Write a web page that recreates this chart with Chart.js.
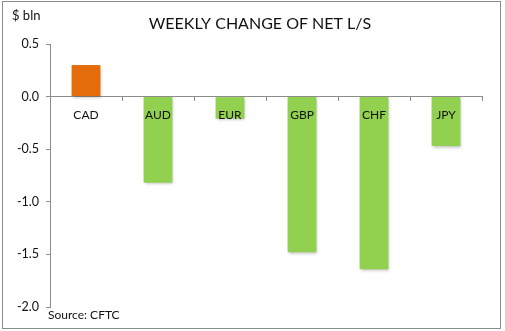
<!DOCTYPE html>
<html>
<head>
<meta charset="utf-8">
<script src="https://cdn.jsdelivr.net/npm/chart.js@4/dist/chart.umd.min.js"></script>
<style>
  html, body { margin: 0; padding: 0; background: #fff; }
  #wrap { width: 505px; height: 331px; position: relative; }
</style>
</head>
<body>
<div id="wrap"><canvas id="chart"></canvas></div>
<script>
// ---- data ----
const currencies = ["CAD", "AUD", "EUR", "GBP", "CHF", "JPY"];
const weeklyChange = [0.30, -0.82, -0.21, -1.48, -1.64, -0.47];
const yTicks = [0.5, 0.0, -0.5, -1.0, -1.5, -2.0];

const chartTitle = "WEEKLY CHANGE OF NET L/S";
const unitLabel = "$ bln";
const sourceNote = "Source: CFTC";

const UP = "#E46C0A";
const DOWN = "#92D050";
const FONT = "Lato, 'Open Sans', sans-serif";

// frame, title and notes drawn straight on the canvas
const decorations = {
    id: "decorations",
    beforeDraw(chart) {
        const ctx = chart.ctx;
        ctx.save();
        ctx.fillStyle = "#fff";
        ctx.fillRect(0, 0, chart.width, chart.height);
        ctx.strokeStyle = "#8c8c8c";
        ctx.lineWidth = 1;
        ctx.strokeRect(2.5, 1.5, 498, 327);
        ctx.restore();
    },
    afterDraw(chart) {
        const ctx = chart.ctx;
        ctx.save();
        ctx.fillStyle = "#111";
        ctx.textBaseline = "middle";
        ctx.textAlign = "center";
        ctx.font = "16px " + FONT;
        ctx.fillText(chartTitle, 260, 24);
        ctx.textAlign = "left";
        ctx.font = "13px " + FONT;
        ctx.fillText(unitLabel, 12, 16);
        ctx.font = "12px " + FONT;
        ctx.fillText(sourceNote, 48, 315);
        ctx.restore();
    }
};

// soft shadow under the bars
const barShadow = {
    id: "barShadow",
    beforeDatasetDraw(chart) {
        const ctx = chart.ctx;
        ctx.save();
        ctx.shadowColor = "rgba(0,0,0,0.28)";
        ctx.shadowBlur = 3;
        ctx.shadowOffsetX = 1;
        ctx.shadowOffsetY = 1.5;
    },
    afterDatasetDraw(chart) {
        chart.ctx.restore();
    }
};

new Chart(document.getElementById("chart"), {
    type: "bar",
    data: {
        labels: currencies,
        datasets: [{
            data: weeklyChange,
            backgroundColor: weeklyChange.map(v => v >= 0 ? UP : DOWN),
            borderWidth: 0,
            categoryPercentage: 0.4,
            barPercentage: 1
        }]
    },
    options: {
        responsive: true,
        maintainAspectRatio: false,
        animation: false,
        layout: { padding: { left: 2, right: 23, top: 44, bottom: 24 } },
        plugins: {
            legend: { display: false },
            title: { display: false },
            tooltip: { enabled: false }
        },
        scales: {
            x: {
                position: { y: 0 },
                grid: {
                    drawOnChartArea: false,
                    tickLength: 4,
                    color: "#8c8c8c"
                },
                border: { color: "#8c8c8c" },
                ticks: {
                    z: 1,
                    padding: 7,
                    color: "#111",
                    font: { family: FONT, size: 12 },
                    maxRotation: 0
                }
            },
            y: {
                min: -2,
                max: 0.5,
                afterFit(scale) { scale.width = 48; },
                afterBuildTicks(scale) {
                    scale.ticks = yTicks.map(v => ({ value: v }));
                },
                grid: {
                    drawOnChartArea: false,
                    tickLength: 4,
                    color: "#8c8c8c"
                },
                border: { color: "#8c8c8c" },
                ticks: {
                    padding: 7,
                    color: "#111",
                    font: { family: FONT, size: 12.5 },
                    callback: v => v.toFixed(1)
                }
            }
        }
    },
    plugins: [decorations, barShadow]
});
</script>
</body>
</html>
